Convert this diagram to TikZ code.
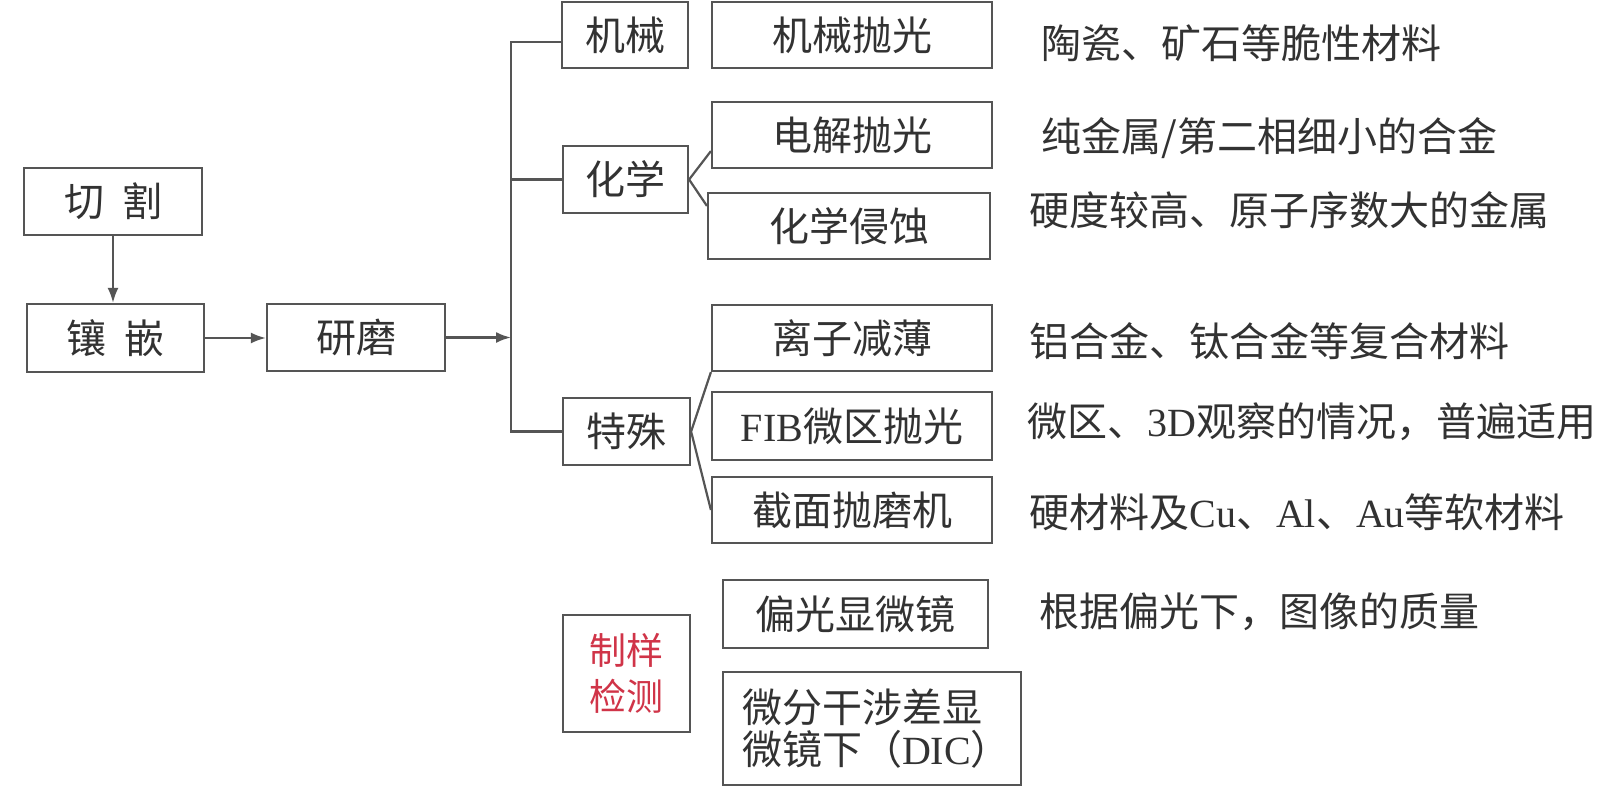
\documentclass[tikz,border=0pt]{standalone}
\usepackage{fontspec}
\newfontfamily\cjk{Noto Sans CJK SC}
\newfontfamily\lat{Liberation Serif}
\usetikzlibrary{arrows.meta,calc}
\definecolor{linec}{RGB}{85,85,85}
\definecolor{txtc}{RGB}{50,50,50}
\definecolor{redc}{RGB}{208,52,72}
\begin{document}
\begin{tikzpicture}[x=0.5pt,y=-0.5pt,
  box/.style={draw=linec, line width=1.1pt, inner sep=0pt, text=txtc, font=\cjk\fontsize{20}{24}\selectfont},
  note/.style={anchor=west, inner sep=0pt, text=txtc, font=\cjk\fontsize{20}{24}\selectfont},
  conn/.style={draw=linec, line width=1.1pt},
  arr/.style={conn, -{Latex[length=7.5pt,width=5.5pt]}}]
\useasboundingbox (0,0) rectangle (1605,786);
\fill[white] (0,0) rectangle (1605,786);

% left chain
\node[box,minimum width=89pt,minimum height=33.5pt] (qiege) at (113,201.5) {切\hspace{9pt}割};
\node[box,minimum width=88.5pt,minimum height=34pt] (xiangqian) at (115.5,338) {镶\hspace{9pt}嵌};
\node[box,minimum width=89pt,minimum height=33.5pt] (yanmo) at (356,337.5) {研磨};

% categories
\node[box,minimum width=63pt,minimum height=33pt] (jixie) at (625,35) {机械};
\node[box,minimum width=62.5pt,minimum height=33.5pt] (huaxue) at (625.5,179.5) {化学};
\node[box,minimum width=63.5pt,minimum height=33.5pt] (teshu) at (626.5,431.5) {特殊};
\node[box,minimum width=63.5pt,minimum height=58.5pt,align=center,text=redc,font=\cjk\fontsize{18.5}{23}\selectfont] (zhiyang) at (626.5,673.5) {制样\\检测};

% methods
\node[box,minimum width=140pt,minimum height=33pt] (jxpg) at (852,35) {机械抛光};
\node[box,minimum width=140pt,minimum height=33pt] (dianjie) at (852,135) {电解抛光};
\node[box,minimum width=141pt,minimum height=33pt] (qinshi) at (849,226) {化学侵蚀};
\node[box,minimum width=140pt,minimum height=33pt] (lizi) at (852,338) {离子减薄};
\node[box,minimum width=140pt,minimum height=34pt] (fib) at (852,426) {{\lat FIB}微区抛光};
\node[box,minimum width=140pt,minimum height=33pt] (jiemian) at (852,510) {截面抛磨机};
\node[box,minimum width=132.5pt,minimum height=34pt] (pianguang) at (855.5,614) {偏光显微镜};
\node[box,text width=130pt,inner xsep=9.5pt,minimum height=56.5pt,align=left,font=\cjk\fontsize{20}{21}\selectfont] (dic) at (872,728.5) {微分干涉差显\\微镜下（{\lat DIC}）};

% notes
\node[note] (n1) at (1041,43) {陶瓷、矿石等脆性材料};
\node[note] (n2) at (1041,138) {纯金属/第二相细小的合金};
\node[note] (n3) at (1029,210) {硬度较高、原子序数大的金属};
\node[note] (n4) at (1029,341) {铝合金、钛合金等复合材料};
\node[note] (n5) at (1027,422) {微区、{\lat 3D}观察的情况，普遍适用};
\node[note] (n6) at (1029,512) {硬材料及{\lat Cu}、{\lat Al}、{\lat Au}等软材料};
\node[note] (n7) at (1039,612) {根据偏光下，图像的质量};

% connectors
\coordinate (bus) at (511,337.5);
\draw[arr] (qiege.south) -- (qiege.south |- xiangqian.north);
\draw[arr] (xiangqian.east) -- (xiangqian.east -| yanmo.west);
\draw[arr] (yanmo.east) -- (bus);
\draw[conn] ([yshift=-3.5pt]jixie.west) -- ([yshift=-3.5pt]jixie.west -| bus) -- (teshu.west -| bus) -- (teshu.west);
\draw[conn] (huaxue.west) -- (huaxue.west -| bus);
\draw[conn] ([yshift=9pt]dianjie.south west) -- (huaxue.east) -- ([yshift=-7pt]qinshi.north west);
\draw[conn] (lizi.south west) -- (teshu.east) -- (jiemian.west);
\end{tikzpicture}
\end{document}
